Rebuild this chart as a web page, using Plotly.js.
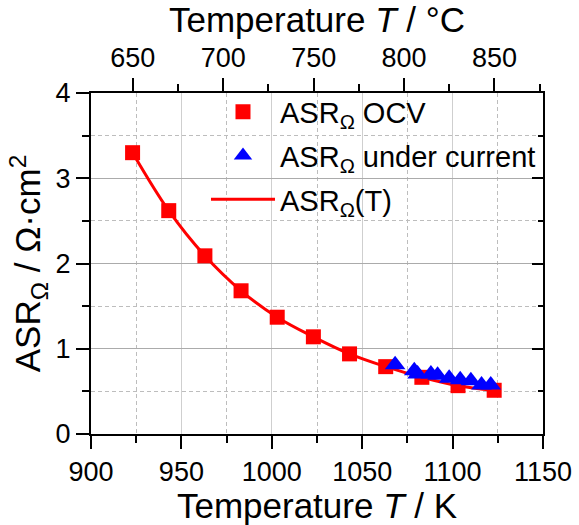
<!DOCTYPE html>
<html>
<head>
<meta charset="utf-8">
<script src="https://cdn.plot.ly/plotly-3.0.1.min.js"></script>
<style>html,body{margin:0;padding:0;background:#fff;}#chart{width:579px;height:525px;}</style>
</head>
<body>
<div id="chart"></div>
<script>
// Data
const tempOCV = [923, 943, 963, 983, 1003, 1023, 1043, 1063, 1083, 1103, 1123];
const asrOCV = [3.30, 2.62, 2.09, 1.68, 1.37, 1.14, 0.94, 0.79, 0.665, 0.567, 0.513];
const tempCurrent = [1068.2, 1078.8, 1080.6, 1088.0, 1091.7, 1098.1, 1104.2, 1110.1, 1116.0, 1121.1];
const asrCurrent = [0.813, 0.743, 0.704, 0.704, 0.69, 0.653, 0.637, 0.625, 0.575, 0.575];
const tempFit = [923, 943, 963, 983, 1003, 1023, 1043, 1063, 1083, 1103, 1123];
const asrFit = [3.30, 2.62, 2.09, 1.68, 1.37, 1.14, 0.94, 0.79, 0.665, 0.567, 0.513];
const kelvinRange = [900, 1150];
const asrRange = [0, 4];
const offsetC = 273.15;
const labelOCV = 'ASR<sub>Ω</sub> OCV';
const labelCurrent = 'ASR<sub>Ω</sub> under current';
const labelFit = 'ASR<sub>Ω</sub>(T)';

const FONT = 'Liberation Sans, Arial, sans-serif';
const minorGrid = '#bdbdbd';

const traces = [
  {x: tempFit, y: asrFit, mode: 'lines', line: {shape: 'spline', color: '#ff0000', width: 3},
   name: labelFit, legendgroup: 'c', legendrank: 3},
  {x: tempOCV, y: asrOCV, mode: 'markers', marker: {symbol: 'square', size: 15, color: '#ff0000'},
   name: labelOCV, legendgroup: 'a', legendrank: 1},
  {x: tempCurrent, y: asrCurrent, mode: 'markers', marker: {symbol: 'triangle-up', size: 18, color: '#0000ff'},
   name: labelCurrent, legendgroup: 'b', legendrank: 2},
  {x: [kelvinRange[0] - offsetC], y: [null], xaxis: 'x2', yaxis: 'y', mode: 'markers', showlegend: false, hoverinfo: 'skip'},
  {x: [kelvinRange[0]], y: [null], xaxis: 'x', yaxis: 'y2', mode: 'markers', showlegend: false, hoverinfo: 'skip'}
];

const layout = {
  width: 579, height: 525,
  margin: {l: 91, r: 36, t: 93, b: 91, pad: 0},
  paper_bgcolor: '#fff', plot_bgcolor: '#fff',
  font: {family: FONT, color: '#000', size: 27},
  showlegend: true,
  legend: {x: 0.2544, y: 1.019, xanchor: 'left', yanchor: 'top', bgcolor: 'rgba(0,0,0,0)',
           font: {family: FONT, size: 29}, itemwidth: 64, tracegroupgap: 3, traceorder: 'grouped'},
  xaxis: {
    range: kelvinRange, dtick: 50, tick0: 900,
    ticks: 'outside', ticklen: 13, tickwidth: 2, tickcolor: '#000',
    showline: true, linewidth: 2, linecolor: '#000',
    showgrid: true, gridcolor: '#cfcfcf', gridwidth: 1.2,
    zeroline: false,
    tickfont: {family: FONT, size: 27},
    minor: {dtick: 25, ticks: 'outside', ticklen: 7, tickwidth: 2, tickcolor: '#000', showgrid: true, gridcolor: minorGrid, griddash: '4px,3px', gridwidth: 1},
    title: {text: 'Temperature <i>T</i> / K', font: {family: FONT, size: 35}, standoff: 6},
    automargin: false
  },
  xaxis2: {
    overlaying: 'x', side: 'top',
    range: [kelvinRange[0] - offsetC, kelvinRange[1] - offsetC], dtick: 50, tick0: 650,
    ticks: 'outside', ticklen: 13, tickwidth: 2, tickcolor: '#000',
    showline: true, linewidth: 2, linecolor: '#000',
    showgrid: false, zeroline: false,
    tickfont: {family: FONT, size: 27},
    minor: {dtick: 25, ticks: 'outside', ticklen: 7, tickwidth: 2, tickcolor: '#000', showgrid: false},
    title: {text: 'Temperature <i>T</i> / °C', font: {family: FONT, size: 35}, standoff: 4},
    automargin: false
  },
  yaxis: {
    range: asrRange, dtick: 1, tick0: 0,
    ticks: 'outside', ticklen: 13, tickwidth: 2, tickcolor: '#000',
    showline: true, linewidth: 2, linecolor: '#000',
    showgrid: true, gridcolor: '#ababab', gridwidth: 1.2,
    zeroline: false,
    tickfont: {family: FONT, size: 27},
    minor: {dtick: 0.5, ticks: 'outside', ticklen: 7, tickwidth: 2, tickcolor: '#000', showgrid: true, gridcolor: minorGrid, griddash: '4px,3px', gridwidth: 1},
    title: {text: 'ASR<sub>Ω</sub> / Ω·cm<sup>2</sup>', font: {family: FONT, size: 35}, standoff: 4},
    automargin: false
  },
  yaxis2: {
    overlaying: 'y', side: 'right', range: asrRange, dtick: 1, tick0: 0,
    ticks: 'inside', ticklen: 11, tickwidth: 2, tickcolor: '#000',
    showline: true, linewidth: 2, linecolor: '#000',
    showticklabels: false, showgrid: false, zeroline: false,
    minor: {dtick: 0.5, ticks: 'inside', ticklen: 5, tickwidth: 2, tickcolor: '#000', showgrid: false}
  }
};

Plotly.newPlot('chart', traces, layout, {staticPlot: true, displayModeBar: false});
</script>
</body>
</html>
